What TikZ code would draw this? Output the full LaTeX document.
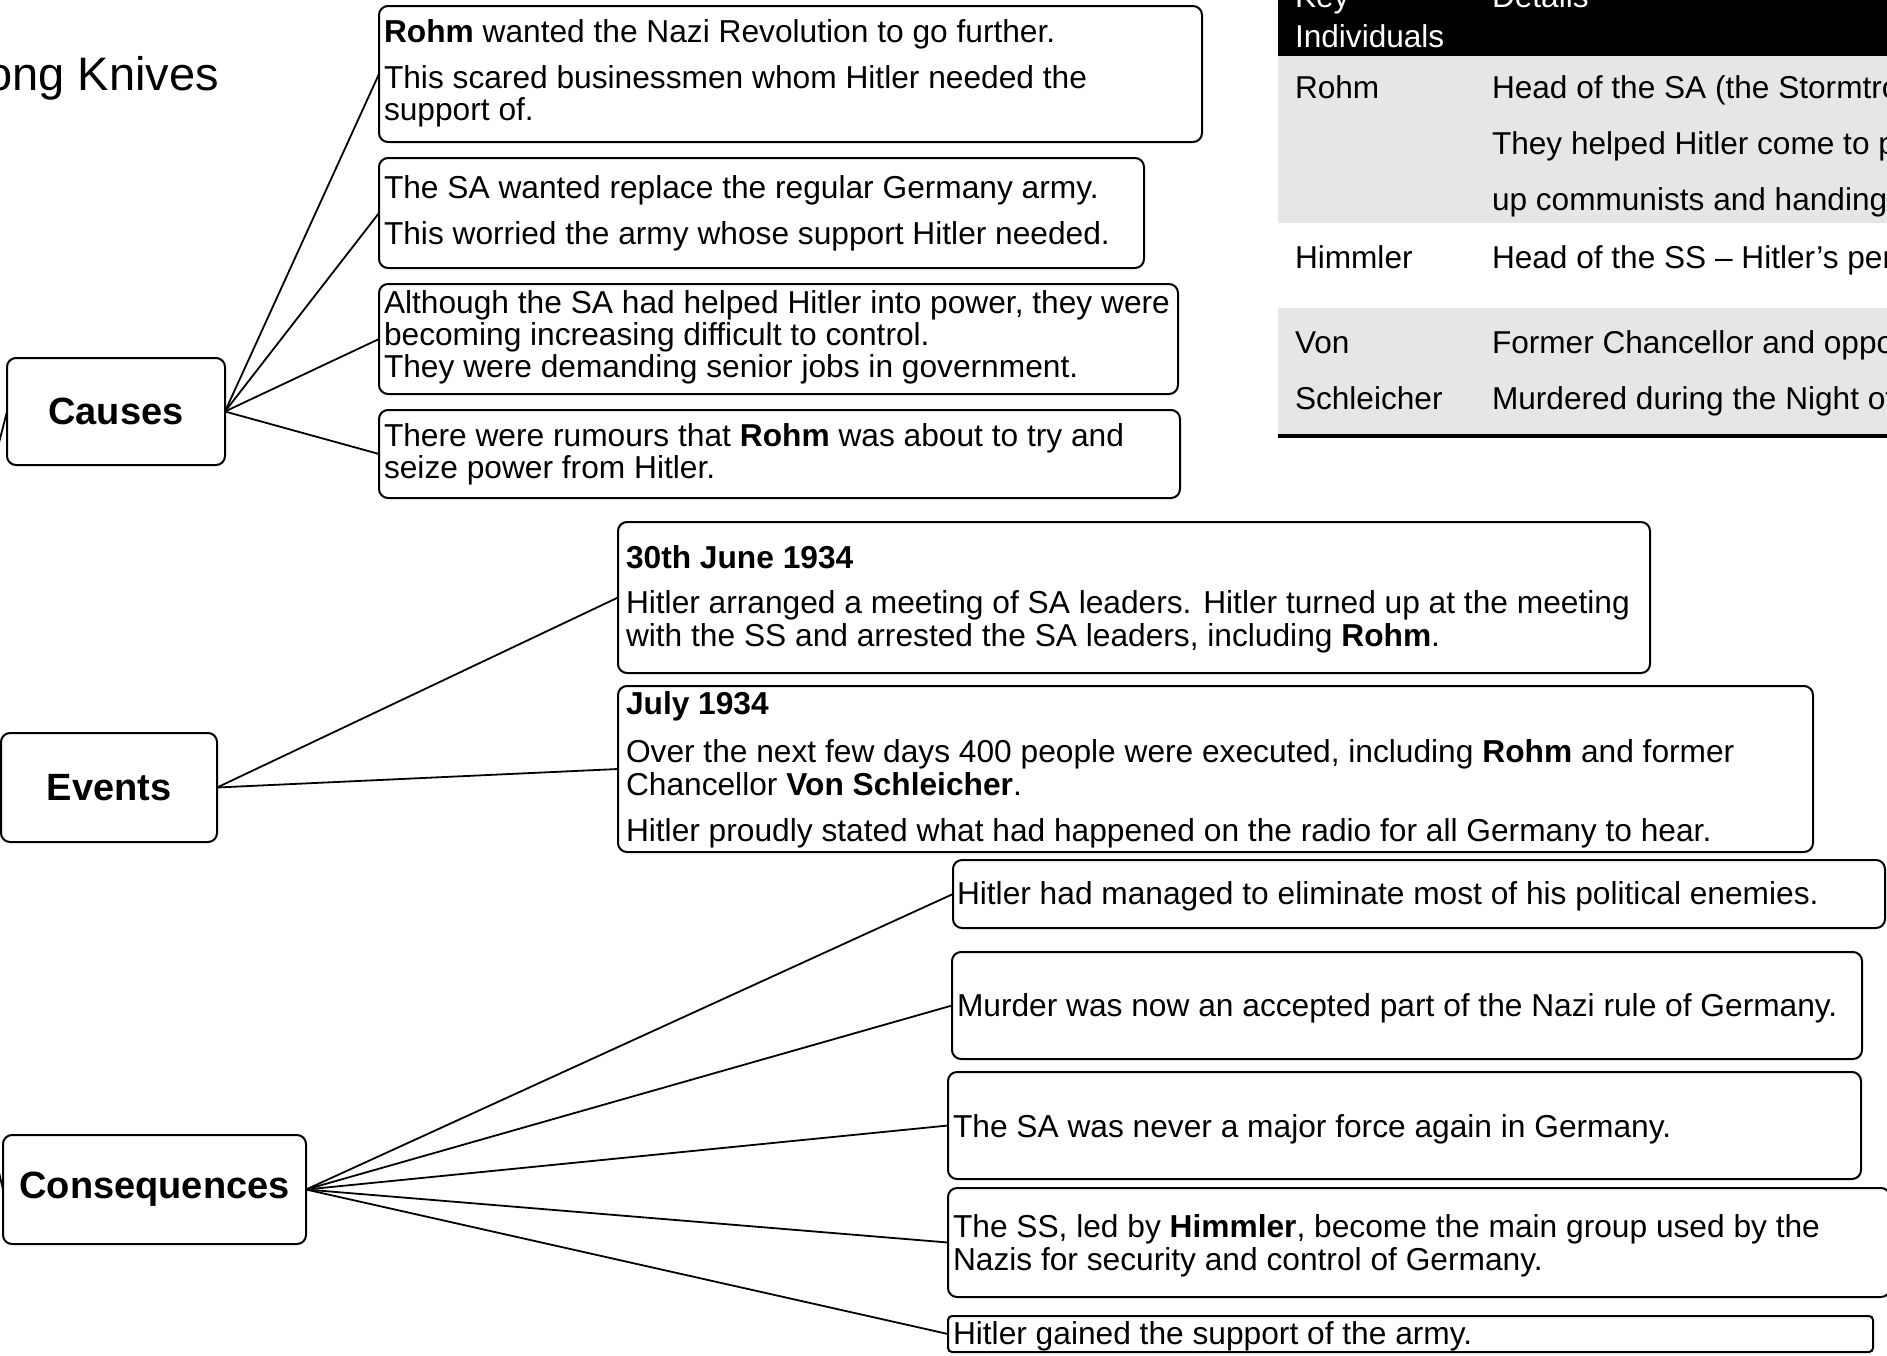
\documentclass[tikz,border=0pt]{standalone}
\usepackage{fontspec}
\setmainfont{Liberation Sans}
\definecolor{rowgrey}{RGB}{230,230,230}
\begin{document}
\begin{tikzpicture}[x=1pt,y=-1pt,
  every node/.style={inner sep=0pt, outer sep=0pt},
  frame/.style={draw, line width=2pt, rounded corners=9pt, anchor=north west},
  hubbox/.style={frame, font=\fontsize{38}{44}\selectfont\bfseries},
  line/.style={anchor=base west, font=\fontsize{31.7}{33}\selectfont},
  cell/.style={anchor=base west, font=\fontsize{31.6}{33}\selectfont},
  headcell/.style={cell, text=white},
  link/.style={line width=1.8pt},
]
\useasboundingbox (0,0) rectangle (1887,1355);
\clip (0,0) rectangle (1887,1355);

% title
\node[anchor=base east, font=\fontsize{47}{50}\selectfont] (title) at (219,90) {ong Knives};

% key individuals table
\fill[black] (1278,-10) rectangle (1900,56);
\fill[rowgrey] (1278,56) rectangle (1900,223);
\fill[rowgrey] (1278,308) rectangle (1900,434);
\draw[line width=4pt] (1278,436) -- (1900,436);
\node[headcell] (hkey) at (1295,7) {Key};
\node[headcell] (hind) at (1295,47) {Individuals};
\node[headcell] (hdet) at (1492,7) {Details};
\node[cell] (trohm) at (1295,98) {Rohm};
\node[cell] (drohma) at (1492,98) {Head of the SA (the Stormtroopers)};
\node[cell] (drohmb) at (1492,154) {They helped Hitler come to power};
\node[cell] (drohmc) at (1492,210) {up communists and handing};
\node[cell] (thim) at (1295,268) {Himmler};
\node[cell] (dhim) at (1492,268) {Head of the SS -- Hitler's personal};
\node[cell] (tvon) at (1295,353) {Von};
\node[cell] (tschl) at (1295,409) {Schleicher};
\node[cell] (dvona) at (1492,353) {Former Chancellor and opponent};
\node[cell] (dvonb) at (1492,409) {Murdered during the Night of};

% category boxes
\node[hubbox, minimum width=218pt, minimum height=107pt] (causes) at (7,358) {Causes};
\node[hubbox, minimum width=216pt, minimum height=109pt] (events) at (1,733) {Events};
\node[hubbox, minimum width=303pt, minimum height=109pt] (cons) at (3,1135) {Consequences};

% causes
\node[frame, minimum width=823pt, minimum height=136pt] (c1) at (379,6) {};
\node[line] (c1a) at (384,42) {\textbf{Rohm} wanted the Nazi Revolution to go further.};
\node[line] (c1b) at (384,88) {This scared businessmen whom Hitler needed the};
\node[line] (c1c) at (384,120) {support of.};

\node[frame, minimum width=765pt, minimum height=110pt] (c2) at (379,158) {};
\node[line] (c2a) at (384,198) {The SA wanted replace the regular Germany army.};
\node[line] (c2b) at (384,244) {This worried the army whose support Hitler needed.};

\node[frame, minimum width=799pt, minimum height=110pt] (c3) at (379,284) {};
\node[line] (c3a) at (384,313) {Although the SA had helped Hitler into power, they were};
\node[line] (c3b) at (384,345) {becoming increasing difficult to control.};
\node[line] (c3c) at (384,377) {They were demanding senior jobs in government.};

\node[frame, minimum width=801pt, minimum height=88pt] (c4) at (379,410) {};
\node[line] (c4a) at (384,446) {There were rumours that \textbf{Rohm} was about to try and};
\node[line] (c4b) at (384,478) {seize power from Hitler.};

% events
\node[frame, minimum width=1032pt, minimum height=151pt] (e1) at (618,522) {};
\node[line] (e1a) at (626,568) {\textbf{30th June 1934}};
\node[line] (e1b) at (626,613) {Hitler arranged a meeting of SA leaders. Hitler turned up at the meeting};
\node[line] (e1c) at (626,646) {with the SS and arrested the SA leaders, including \textbf{Rohm}.};

\node[frame, minimum width=1195pt, minimum height=166pt] (e2) at (618,686) {};
\node[line] (e2a) at (626,714) {\textbf{July 1934}};
\node[line] (e2b) at (626,762) {Over the next few days 400 people were executed, including \textbf{Rohm} and former};
\node[line] (e2c) at (626,795) {Chancellor \textbf{Von Schleicher}.};
\node[line] (e2d) at (626,841) {Hitler proudly stated what had happened on the radio for all Germany to hear.};

% consequences
\node[frame, minimum width=932pt, minimum height=68pt] (q1) at (953,860) {};
\node[line] (q1a) at (957,904) {Hitler had managed to eliminate most of his political enemies.};

\node[frame, minimum width=910pt, minimum height=107pt] (q2) at (952,952) {};
\node[line] (q2a) at (957,1016) {Murder was now an accepted part of the Nazi rule of Germany.};

\node[frame, minimum width=913pt, minimum height=107pt] (q3) at (948,1072) {};
\node[line] (q3a) at (953,1137) {The SA was never a major force again in Germany.};

\node[frame, minimum width=942pt, minimum height=109pt] (q4) at (948,1188) {};
\node[line] (q4a) at (953,1237) {The SS, led by \textbf{Himmler}, become the main group used by the};
\node[line] (q4b) at (953,1270) {Nazis for security and control of Germany.};

\node[frame, rounded corners=4pt, minimum width=925pt, minimum height=36pt] (q5) at (948,1316) {};
\node[line] (q5a) at (953,1344) {Hitler gained the support of the army.};

% connectors
\coordinate (root) at (-90,790);
\draw[link] (root) -- (causes.west);
\draw[link] (root) -- (events.west);
\draw[link] (root) -- (cons.west);
\foreach \b in {c1,c2,c3,c4} \draw[link] (causes.east) -- (\b.west);
\foreach \b in {e1,e2} \draw[link] (events.east) -- (\b.west);
\foreach \b in {q1,q2,q3,q4,q5} \draw[link] (cons.east) -- (\b.west);
\end{tikzpicture}
\end{document}
